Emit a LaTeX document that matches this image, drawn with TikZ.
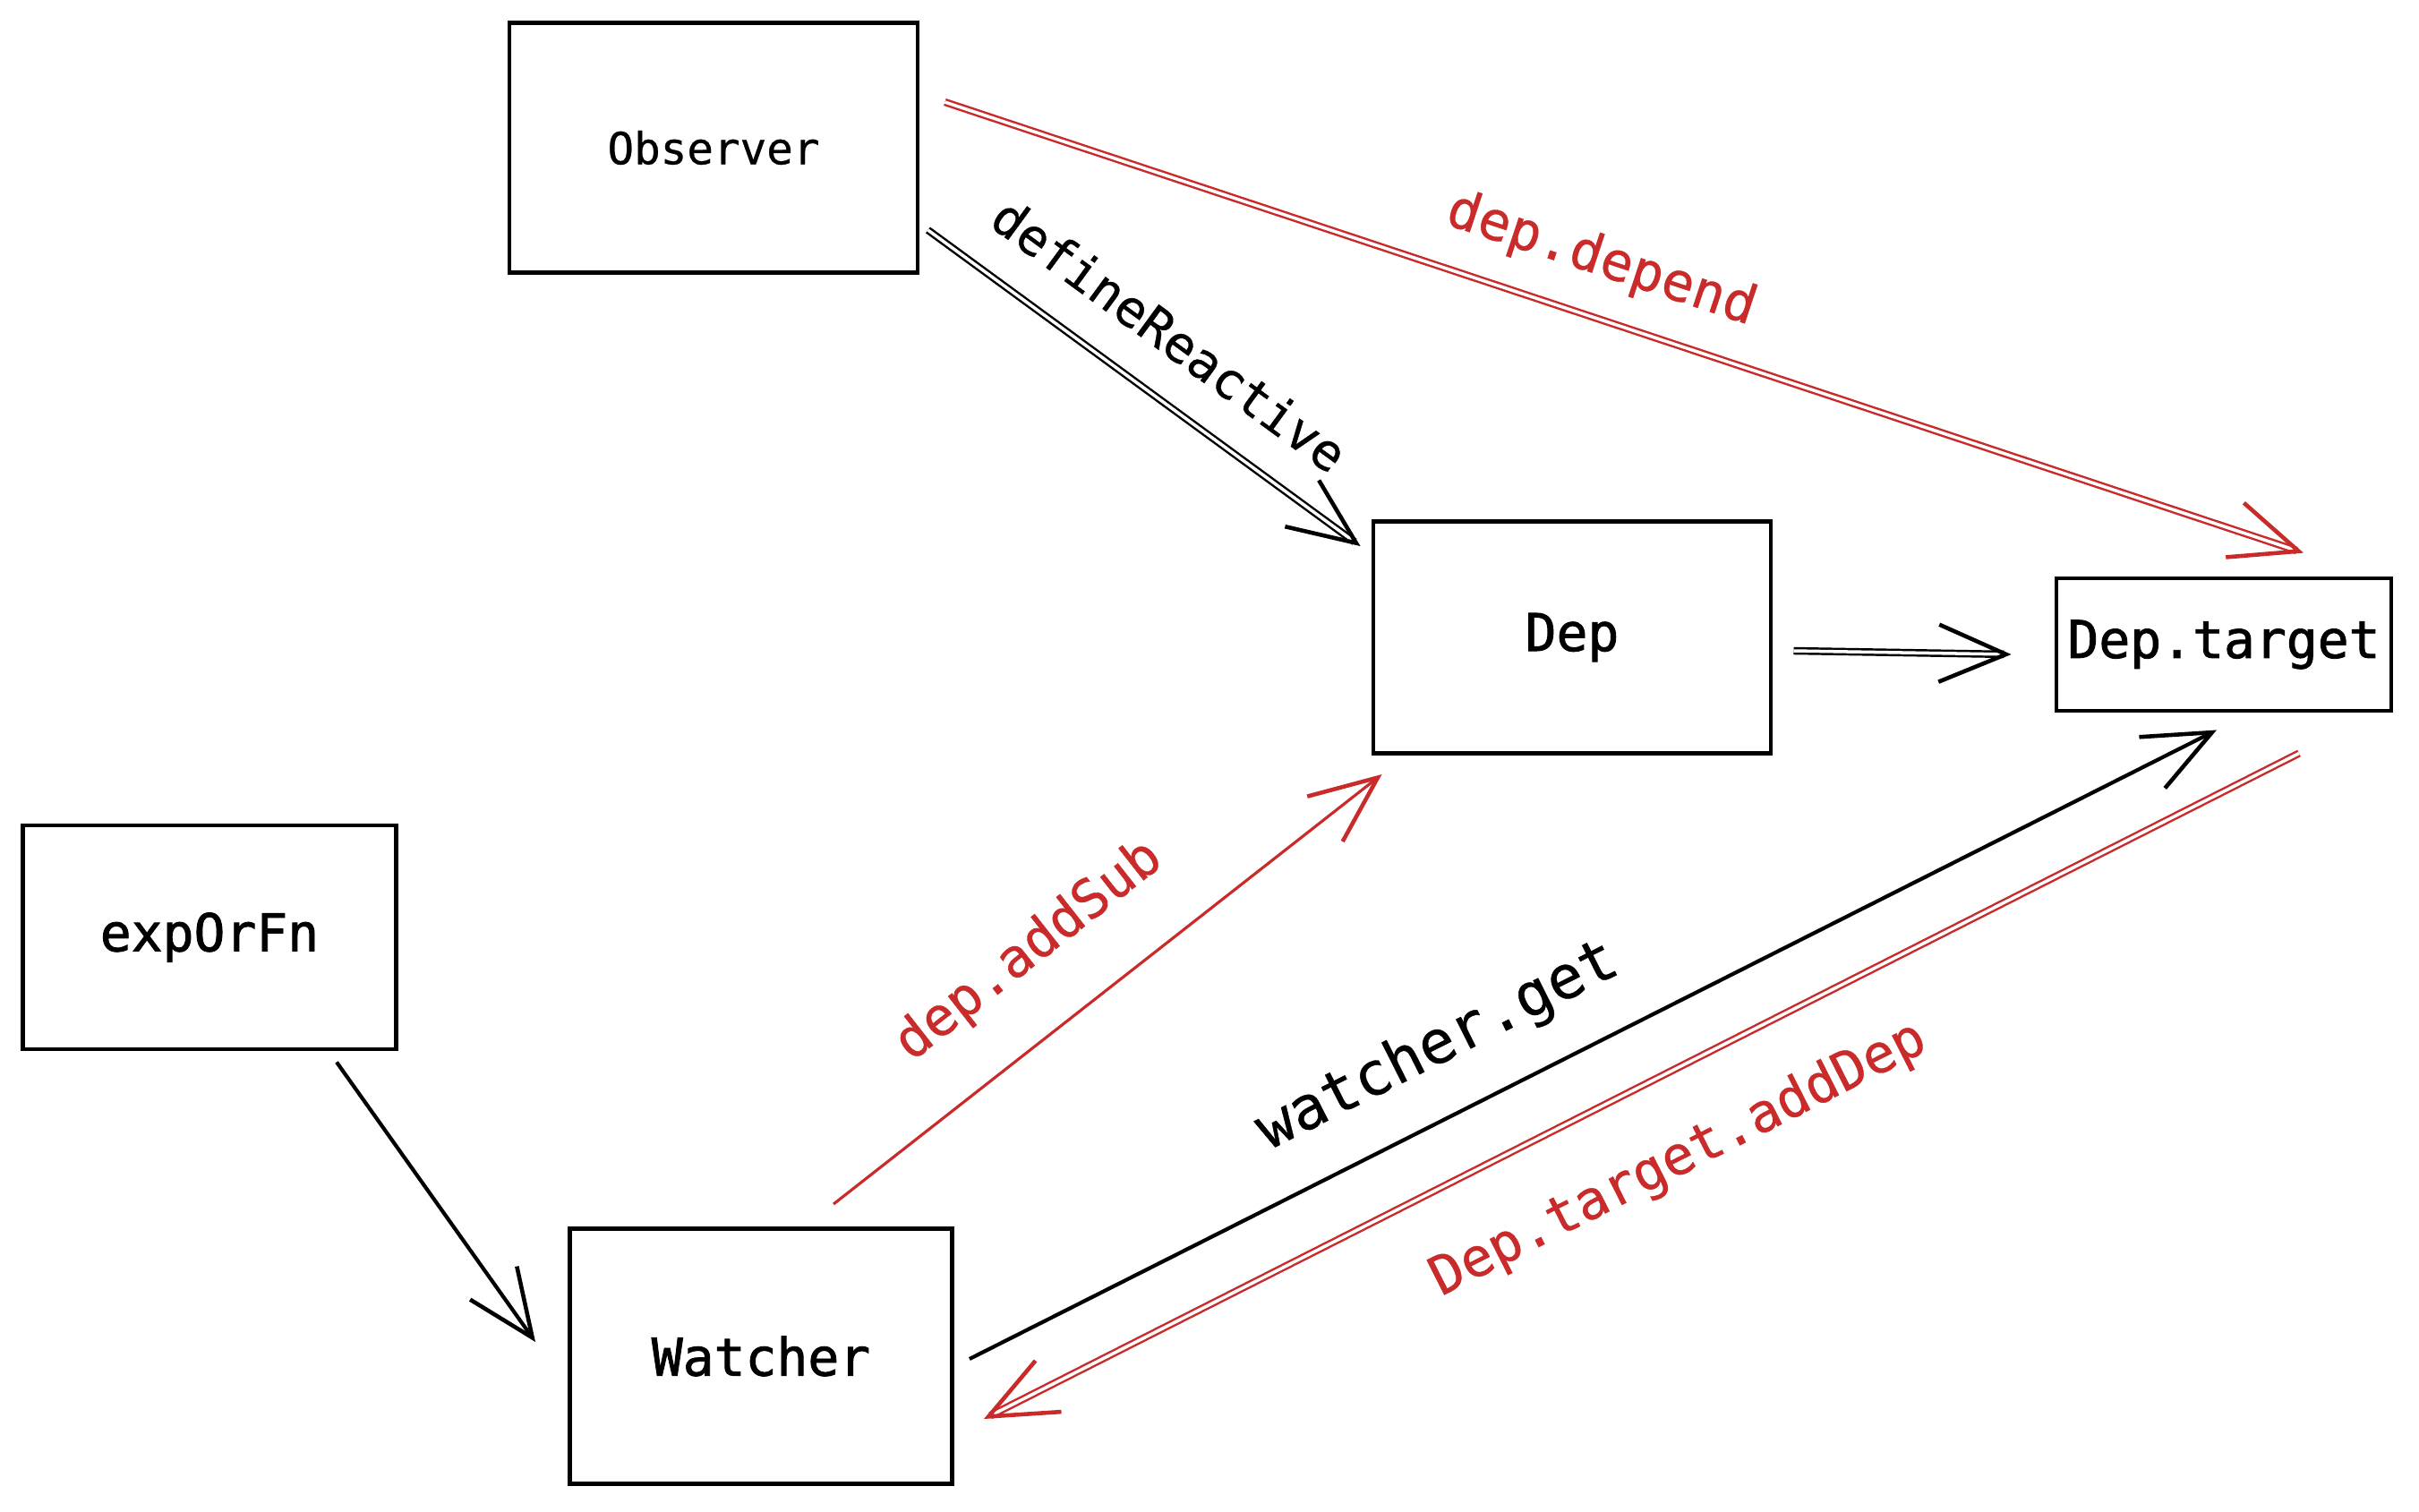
\documentclass[tikz,border=0pt]{standalone}
\usepackage{fontspec}
\setmonofont{DejaVu Sans Mono}
\newfontfamily\boxmono[FakeBold=1.5]{DejaVu Sans Mono}
\newfontfamily\lblmono[FakeBold=0.6]{DejaVu Sans Mono}
\usetikzlibrary{arrows.meta}
\definecolor{sketchred}{HTML}{C92A2A}
\tikzset{
  box/.style={draw, line width=1.4pt, inner sep=0pt, font=\boxmono\fontsize{16.5}{18}\selectfont},
  arr/.style={line width=1.2pt, -{Straight Barb[length=7.5mm,width=6.4mm,line width=1.3pt]}},
  darr/.style={arr, double, line width=0.7pt, double distance=1pt},
  lbl/.style={font=\lblmono\fontsize{17}{19}\selectfont, sloped, inner sep=0pt}
}
\begin{document}
\begin{tikzpicture}
  \useasboundingbox (0,0) rectangle (27.02,-16.88);

  % boxes
  \node[box, minimum width=4.56cm, minimum height=2.79cm, font=\lblmono\fontsize{14}{16}\selectfont] (obs) at (7.97,-1.65) {Observer};
  \node[box, minimum width=4.44cm, minimum height=2.59cm] (dep) at (17.56,-7.12) {Dep};
  \node[box, minimum width=3.74cm, minimum height=1.48cm] (tgt) at (24.84,-7.20) {Dep.target};
  \node[box, minimum width=4.17cm, minimum height=2.50cm] (exp) at (2.34,-10.47) {expOrFn};
  \node[box, minimum width=4.27cm, minimum height=2.85cm] (wat) at (8.50,-15.15) {Watcher};

  % black connectors
  \draw[darr] ([xshift=0.9mm,yshift=5mm]obs.south east) -- node[lbl, pos=0.48, above=4.2mm, font=\lblmono\fontsize{16}{18}\selectfont] {defineReactive} ([xshift=-1.2mm,yshift=-3mm]dep.north west);
  \draw[darr] ([xshift=2.3mm,yshift=-1.5mm]dep.east) -- ([xshift=-4.8mm,yshift=-1.1mm]tgt.west);
  \draw[arr] ([xshift=14.2mm,yshift=-1.2mm]exp.south) -- ([xshift=-3.6mm,yshift=1.6mm]wat.west);
  \draw[arr] ([xshift=1.7mm,yshift=-0.3mm]wat.east) -- node[lbl, pos=0.40, above=4.1mm, font=\lblmono\fontsize{19}{21}\selectfont] {watcher.get} ([xshift=-0.8mm,yshift=-1.9mm]tgt.south);

  % red connectors
  \draw[darr, sketchred] ([xshift=2.8mm,yshift=-9.1mm]obs.north east) -- node[lbl, pos=0.47, above=3.3mm] {dep.depend} ([xshift=8.9mm,yshift=2.6mm]tgt.north);
  \draw[arr, sketchred, line width=0.9pt] ([xshift=8.1mm,yshift=2.5mm]wat.north) -- node[lbl, pos=0.445, above=5.7mm] {dep.addSub} ([xshift=1.2mm,yshift=-2.1mm]dep.south west);
  \draw[darr, sketchred] ([xshift=8.4mm,yshift=-4.5mm]tgt.south) -- node[lbl, pos=0.5, below=6.2mm] {Dep.target.addDep} ([xshift=3.3mm,yshift=-7mm]wat.east);
\end{tikzpicture}
\end{document}
